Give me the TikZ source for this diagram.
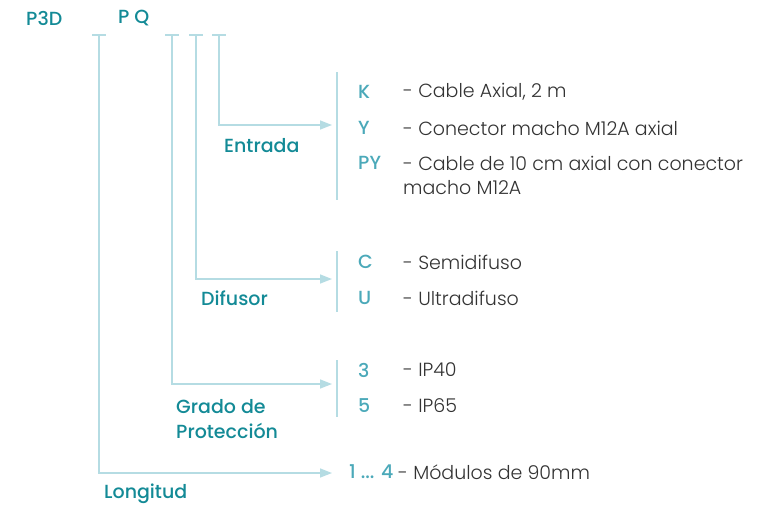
\documentclass[tikz,border=0pt]{standalone}
\usepackage{fontspec}
\setmainfont{Poppins}
\newfontfamily\labelfont{Poppins Medium}
\newfontfamily\descfont{Poppins Light}
\usetikzlibrary{arrows.meta}
\definecolor{lab}{HTML}{138A96}
\definecolor{code}{HTML}{4BA9B9}
\definecolor{ln}{HTML}{B5DCE3}
\definecolor{txt}{HTML}{333333}
\tikzset{
  conn/.style={draw=ln, line width=1.5pt},
  arr/.style={conn, -{Triangle[length=12pt,width=9pt,fill=ln]}},
  lbl/.style={anchor=west, inner sep=0pt, text=lab, font=\labelfont\fontsize{19}{25}\selectfont},
  cd/.style={anchor=west, inner sep=0pt, text=code, font=\labelfont\fontsize{19}{25}\selectfont},
  ds/.style={anchor=west, inner sep=0pt, text=txt, font=\descfont\fontsize{19}{25}\selectfont},
}
\begin{document}
\begin{tikzpicture}[x=1pt,y=-1pt]
\useasboundingbox (0,0) rectangle (758,509);
% header
\node[lbl] (p3d) at (26,18) {P3D};
\node[lbl] (pq) at (118,18) {P Q};
% ticks
\foreach \n/\x in {t1/99,t2/172,t3/196,t4/219}{
  \coordinate (\n) at (\x,35);
  \draw[conn] (\x-7,35) -- (\x+7,35);
}
% corners and arrow ends
\coordinate (c1) at (99,473);  \coordinate (e1) at (332,473);
\coordinate (c2) at (172,384); \coordinate (e2) at (332,384);
\coordinate (c3) at (196,279); \coordinate (e3) at (332,279);
\coordinate (c4) at (219,125); \coordinate (e4) at (332,125);
\draw[arr] (t1) -- (c1) -- (e1);
\draw[arr] (t2) -- (c2) -- (e2);
\draw[arr] (t3) -- (c3) -- (e3);
\draw[arr] (t4) -- (c4) -- (e4);
% brackets
\coordinate (b4a) at (337,72);  \coordinate (b4b) at (337,200);
\coordinate (b3a) at (337,251); \coordinate (b3b) at (337,312);
\coordinate (b2a) at (337,360); \coordinate (b2b) at (337,417);
\draw[conn] (b4a) -- (b4b);
\draw[conn] (b3a) -- (b3b);
\draw[conn] (b2a) -- (b2b);
% labels
\node[lbl] (entrada) at (224,146) {Entrada};
\node[lbl] (difusor) at (201,298) {Difusor};
\node[lbl, align=left] (grado) at (176,419) {Grado de\\Protección};
\node[lbl] (longitud) at (104,494) {Longitud};
% codes
\node[cd] (k) at (358,92) {K};
\node[cd] (y) at (358,128) {Y};
\node[cd] (py) at (358,163) {PY};
\node[cd] (c) at (358,262) {C};
\node[cd] (u) at (358,298) {U};
\node[cd] (n3) at (358,370) {3};
\node[cd] (n5) at (358,406) {5};
\node[cd] (n14) at (349,472) {1 ... 4};
% descriptions
\node[ds] (dk) at (403,92) {- Cable Axial, 2 m};
\node[ds] (dy) at (403,128) {- Conector macho M12A axial};
\node[ds] (dpy) at (403,163) {- Cable de 10 cm axial con conector};
\node[ds] (dpy2) at (403,188) {macho M12A};
\node[ds] (dc) at (403,262) {- Semidifuso};
\node[ds] (du) at (403,298) {- Ultradifuso};
\node[ds] (d3) at (403,370) {- IP40};
\node[ds] (d5) at (403,406) {- IP65};
\node[ds] (d14) at (398,472) {- Módulos de 90mm};
\end{tikzpicture}
\end{document}
